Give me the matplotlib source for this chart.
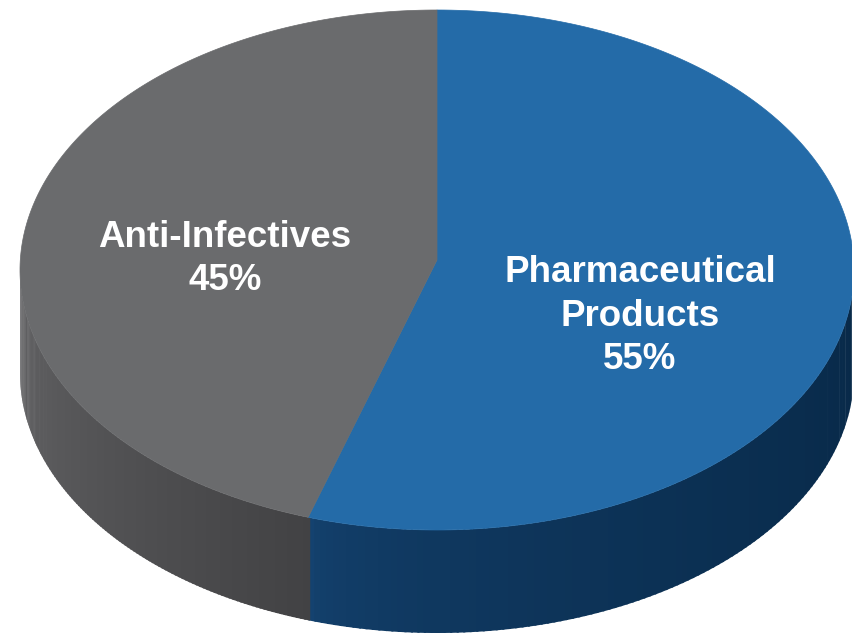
"""
3D-style pie chart: Pharmaceutical Products vs Anti-Infectives.
"""

import numpy as np
import matplotlib
matplotlib.use("Agg")
import matplotlib.pyplot as plt
from matplotlib.colors import to_rgb
from matplotlib.patches import Polygon

# Данные
labels = ["Pharmaceutical\nProducts", "Anti-Infectives"]
shares = [55, 45]

# Оформление
top_colors = ["#246ba8", "#6a6b6d"]
side_colors = [("#14426f", "#082948"), ("#646466", "#424244")]
label_pos = [(640, 316), (225, 259)]

W, H = 853, 637
cx, cy = 437, 270          # центр эллипса верхней грани
apex = (437, 260)          # вершина секторов
a, b = 417, 260            # полуоси
depth = 103                # толщина диска


def ellipse_pt(t):
    return cx + a * np.cos(t), cy - b * np.sin(t)


def mix(c0, c1, f):
    c0, c1 = np.array(to_rgb(c0)), np.array(to_rgb(c1))
    return tuple(c0 + (c1 - c0) * f)


fig = plt.figure(figsize=(W / 100, H / 100), dpi=100)
ax = fig.add_axes([0, 0, 1, 1])
ax.set_xlim(0, W)
ax.set_ylim(H, 0)
ax.axis("off")

# Углы секторов (по часовой стрелке от 12 часов)
fracs = np.array(shares) / sum(shares)
edges = 90 - 360 * np.concatenate([[0], np.cumsum(fracs)])

# Боковая стенка: видна только передняя половина (-180..0 градусов)
for i in range(len(shares)):
    lo, hi = edges[i + 1], edges[i]
    for shift in (0, -360):
        s0, s1 = max(lo, -180 + shift), min(hi, 0 + shift)
        if s1 <= s0:
            continue
        n = 120
        ts = np.linspace(s0, s1, n + 1)
        c = side_colors[i]
        span = s1 - s0
        for k in range(n):
            t0, t1 = np.radians(ts[k]), np.radians(ts[k + 1] + 0.3)
            arc = np.linspace(t0, t1, 4)
            xs, ys = ellipse_pt(arc)
            pts = list(zip(xs, ys)) + list(zip(xs[::-1], ys[::-1] + depth))
            f = (ts[k] - s0) / span
            if i == 0:
                f = np.sqrt(f)               # синий быстро темнеет от стыка
            ax.add_patch(Polygon(pts, closed=True, facecolor=mix(c[0], c[1], f),
                                 edgecolor="none"))

# Верхняя грань
for i in range(len(shares)):
    ts = np.radians(np.linspace(edges[i], edges[i + 1], 200))
    xs, ys = ellipse_pt(ts)
    pts = [apex] + list(zip(xs, ys))
    ax.add_patch(Polygon(pts, closed=True, facecolor=top_colors[i],
                         edgecolor=top_colors[i], linewidth=0.5))

# Подписи
for i in range(len(shares)):
    x, y = label_pos[i]
    ax.text(x, y, f"{labels[i]}\n{shares[i]}%", ha="center", va="center",
            color="white", fontsize=26.5, fontweight="bold",
            family="Liberation Sans", linespacing=1.3)

fig.savefig("out.png", dpi=100, facecolor="white")
plt.close(fig)
